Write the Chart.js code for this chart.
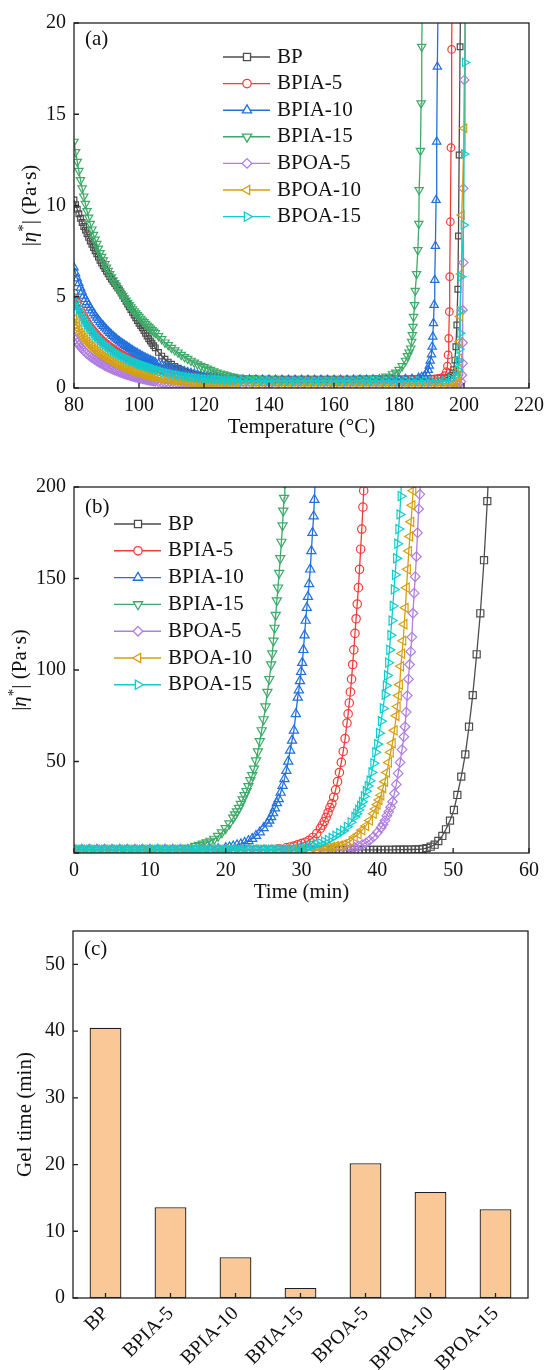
<!DOCTYPE html>
<html>
<head>
<meta charset="utf-8">
<title>Viscosity curves and gel time</title>
<script src="https://cdn.jsdelivr.net/npm/chart.js@4.4.1/dist/chart.umd.min.js"></script>
<style>
  html, body { margin: 0; padding: 0; background: #fff; }
  #page { position: relative; width: 546px; height: 1370px; overflow: hidden; }
  canvas { position: absolute; left: 0; }
</style>
</head>
<body>
<div id="page">
  <canvas id="chartA" width="546" height="460" style="top:0px"></canvas>
  <canvas id="chartB" width="546" height="460" style="top:460px"></canvas>
  <canvas id="chartC" width="546" height="450" style="top:920px"></canvas>
</div>
<script>
// ---------- (a) temperature sweep ----------
const tempLow = [80,80.5,81,81.5,82,82.5,83,83.5,84,84.5,85,85.5,86,86.5,87,87.5,88,88.5,89,89.5,
  90,90.5,91,91.5,92,92.5,93,93.5,94,94.5,95,95.5,96,96.5,97,97.5,98,98.5,99,99.5,
  100,100.5,101,101.5,102,102.5,103,103.5,104,104.5,105,
  106,107,108,109,110,111,112,113,114,115,116,117,118,119,120,121,122,123,124,125,126,127,128,129,130];
const tempMid = [132,134,136,138,140,142,144,146,148,150,152,154,156,158,160,162,164,166,168,170,172,174,176,178];

const bpEtaLow = [10.3,10.05,9.8,9.55,9.3,9.07,8.85,8.65,8.45,8.25,
  8.05,7.87,7.7,7.52,7.35,7.17,7.0,6.85,6.7,6.55,
  6.4,6.25,6.1,5.97,5.85,5.72,5.6,5.47,5.35,5.2,
  5.05,4.9,4.75,4.6,4.45,4.3,4.15,4.0,3.85,3.7,
  3.55,3.42,3.3,3.15,3.0,2.85,2.7,2.57,2.45,2.32,
  2.2,
  1.95,1.75,1.58,1.42,1.3,1.18,1.08,1.0,0.92,0.86,
  0.8,0.75,0.7,0.66,0.63,0.6,0.58,0.56,0.55,0.54,
  0.53,0.52,0.51,0.51,0.5];
const bpEtaMid = [0.5,0.5,0.5,0.49,0.49,0.49,0.49,0.49,0.49,0.49,0.49,0.49,0.49,0.49,0.49,0.49,0.49,0.49,0.5,0.5,0.5,0.5,0.5,0.5];
const bpTempRise = [180,182,184,186,188,190,192,194,195,196,196.5,196.8,197.2,197.5,197.8,198.1,198.3,198.5,198.8,199.1];
const bpEtaRise = [0.5,0.5,0.51,0.51,0.52,0.52,0.53,0.55,0.58,0.68,0.82,1.0,1.53,2.26,3.45,5.41,8.33,12.77,18.7,24];

const bpia5EtaLow = [5.2,4.94,4.7,4.5,4.3,4.12,3.95,3.78,3.62,3.49,
  3.36,3.24,3.13,3.02,2.92,2.82,2.73,2.64,2.56,2.48,
  2.41,2.34,2.27,2.2,2.14,2.08,2.02,1.96,1.91,1.86,
  1.81,1.76,1.71,1.66,1.62,1.58,1.54,1.5,1.46,1.42,
  1.39,1.35,1.32,1.29,1.26,1.23,1.2,1.17,1.14,1.11,
  1.08,
  1.03,0.98,0.93,0.88,0.84,0.8,0.77,0.74,0.71,0.68,
  0.65,0.63,0.61,0.59,0.57,0.56,0.54,0.53,0.52,0.51,
  0.5,0.49,0.49,0.48,0.48];
const bpia5EtaMid = [0.47,0.47,0.46,0.46,0.46,0.45,0.45,0.45,0.45,0.45,0.45,0.45,0.45,0.45,0.45,0.45,0.45,0.45,0.45,0.45,0.46,0.46,0.46,0.46];
const bpia5TempRise = [180,182,184,186,188,190,191,192,193,194,194.6,194.9,195.1,195.3,195.5,195.6,195.8,196.0,196.2,196.5];
const bpia5EtaRise = [0.46,0.47,0.47,0.48,0.48,0.49,0.5,0.52,0.55,0.67,0.89,1.2,1.81,2.72,4.18,6.1,9.11,13.17,18.55,25];

const bpia10EtaLow = [6.6,6.28,6.0,5.74,5.5,5.27,5.05,4.87,4.7,4.55,
  4.4,4.25,4.1,3.97,3.85,3.72,3.6,3.5,3.4,3.3,
  3.2,3.11,3.02,2.93,2.85,2.77,2.7,2.62,2.55,2.48,
  2.42,2.36,2.3,2.24,2.18,2.12,2.06,2.0,1.95,1.9,
  1.84,1.79,1.74,1.7,1.65,1.6,1.56,1.52,1.48,1.44,
  1.4,
  1.33,1.26,1.2,1.15,1.1,1.05,1.0,0.95,0.9,0.86,
  0.82,0.78,0.74,0.7,0.67,0.64,0.61,0.58,0.56,0.54,
  0.52,0.5,0.49,0.48,0.47];
const bpia10EtaMid = [0.46,0.46,0.45,0.45,0.45,0.44,0.44,0.44,0.44,0.44,0.44,0.44,0.44,0.44,0.44,0.44,0.44,0.45,0.45,0.45,0.46,0.46,0.47,0.47];
const bpia10TempRise = [180,182,184,186,187,187.8,188.5,189,189.3,189.6,190,190.2,190.4,190.6,190.8,191,191.2,191.4,191.6,191.8,192.2];
const bpia10EtaRise = [0.48,0.49,0.5,0.55,0.6,0.66,0.8,0.99,1.22,1.5,1.84,2.26,2.81,3.55,4.55,5.92,7.78,10.3,13.5,17.6,24];

const bpia15EtaLow = [13.5,12.93,12.4,11.9,11.4,10.94,10.5,10.09,9.7,9.34,
  9.0,8.69,8.4,8.14,7.9,7.64,7.4,7.19,7.0,6.8,
  6.6,6.42,6.25,6.07,5.9,5.75,5.6,5.45,5.3,5.17,
  5.05,4.92,4.8,4.67,4.55,4.43,4.32,4.21,4.1,4.0,
  3.9,3.8,3.7,3.61,3.52,3.43,3.35,3.26,3.18,3.1,
  3.02,
  2.85,2.68,2.5,2.35,2.2,2.07,1.95,1.82,1.7,1.6,
  1.5,1.4,1.3,1.22,1.15,1.07,1.0,0.92,0.85,0.8,
  0.75,0.7,0.65,0.61,0.58];
const bpia15EtaMid = [0.55,0.52,0.5,0.48,0.47,0.46,0.45,0.45,0.45,0.45,0.45,0.45,0.45,0.45,0.45,0.45,0.45,0.45,0.46,0.47,0.5,0.55,0.63,0.76];
const bpia15TempRise = [179,180,181,182,182.6,183.1,183.6,183.9,184.1,184.3,184.5,184.8,185.0,185.4,185.8,186.1,186.2,186.6,186.8,187.0,187.3];
const bpia15EtaRise = [0.85,1.0,1.2,1.5,1.75,1.95,2.17,2.54,2.9,3.36,3.9,4.55,5.33,6.25,7.56,9.0,10.85,13.0,15.6,18.7,23];

const bpoa5EtaLow = [2.8,2.64,2.5,2.37,2.25,2.15,2.05,1.96,1.88,1.8,
  1.73,1.66,1.6,1.54,1.48,1.42,1.37,1.32,1.27,1.22,
  1.18,1.13,1.09,1.05,1.01,0.97,0.94,0.9,0.87,0.83,
  0.8,0.77,0.74,0.71,0.68,0.65,0.63,0.6,0.58,0.56,
  0.54,0.52,0.5,0.48,0.46,0.44,0.42,0.4,0.39,0.37,
  0.36,
  0.33,0.3,0.28,0.26,0.24,0.22,0.21,0.2,0.19,0.18,
  0.17,0.17,0.16,0.16,0.15,0.15,0.15,0.15,0.14,0.14,
  0.14,0.14,0.14,0.14,0.14];
const bpoa5EtaMid = [0.14,0.14,0.14,0.14,0.14,0.14,0.14,0.14,0.14,0.14,0.14,0.14,0.14,0.14,0.14,0.14,0.14,0.14,0.14,0.14,0.14,0.14,0.14,0.14];
const bpoa5TempRise = [180,182,184,186,188,190,192,194,196,197,198,198.5,199.1,199.4,199.6,199.6,199.6,199.8,199.8,200.1,200.3];
const bpoa5EtaRise = [0.14,0.14,0.14,0.14,0.14,0.14,0.14,0.14,0.14,0.15,0.17,0.2,0.35,0.71,1.35,2.48,4.27,6.87,10.94,16.88,23];

const bpoa10EtaLow = [3.8,3.59,3.4,3.22,3.05,2.91,2.78,2.66,2.55,2.45,
  2.35,2.26,2.17,2.08,2.0,1.93,1.86,1.79,1.73,1.67,
  1.61,1.55,1.5,1.45,1.4,1.35,1.3,1.25,1.21,1.17,
  1.13,1.09,1.05,1.01,0.98,0.95,0.92,0.89,0.86,0.83,
  0.8,0.77,0.75,0.72,0.7,0.67,0.65,0.63,0.61,0.59,
  0.57,
  0.53,0.49,0.46,0.43,0.41,0.39,0.37,0.35,0.33,0.31,
  0.3,0.29,0.28,0.27,0.26,0.26,0.25,0.25,0.24,0.24,
  0.24,0.23,0.23,0.23,0.23];
const bpoa10EtaMid = [0.23,0.23,0.23,0.23,0.23,0.23,0.22,0.22,0.22,0.22,0.22,0.22,0.22,0.22,0.22,0.22,0.22,0.22,0.22,0.22,0.22,0.22,0.22,0.22];
const bpoa10TempRise = [180,182,184,186,188,190,192,194,196,197,198,198.3,198.4,198.5,198.6,198.8,199.1,199.3,200.1,200.4];
const bpoa10EtaRise = [0.22,0.22,0.22,0.22,0.22,0.22,0.22,0.22,0.22,0.2,0.3,0.6,1.08,1.63,2.54,3.91,6.25,9.48,14.23,21];

const bpoa15EtaLow = [5.0,4.74,4.5,4.29,4.1,3.92,3.75,3.6,3.45,3.32,
  3.2,3.09,2.98,2.88,2.78,2.69,2.6,2.52,2.44,2.37,
  2.3,2.23,2.16,2.09,2.03,1.97,1.92,1.87,1.82,1.77,
  1.72,1.67,1.63,1.59,1.55,1.51,1.47,1.43,1.4,1.36,
  1.33,1.29,1.26,1.23,1.2,1.17,1.14,1.11,1.08,1.05,
  1.02,
  0.97,0.92,0.87,0.82,0.78,0.74,0.71,0.68,0.65,0.62,
  0.59,0.57,0.55,0.53,0.51,0.5,0.48,0.47,0.46,0.45,
  0.44,0.43,0.43,0.42,0.42];
const bpoa15EtaMid = [0.41,0.41,0.4,0.4,0.4,0.39,0.39,0.39,0.39,0.39,0.39,0.39,0.39,0.39,0.39,0.39,0.39,0.39,0.39,0.39,0.39,0.4,0.4,0.4];
const bpoa15TempRise = [180,182,184,186,188,190,192,194,196,197.5,198.1,198.4,198.6,198.8,198.8,199.1,199.9,200.0,200.3,200.5];
const bpoa15EtaRise = [0.4,0.4,0.4,0.4,0.4,0.4,0.4,0.41,0.5,0.7,0.99,1.5,2.12,3.0,4.22,6.1,8.93,12.82,17.84,23];

// ---------- (b) isothermal time sweep ----------
const bpTime = [0,1,2,3,4,5,6,7,8,9,10,11,12,13,14,15,16,17,18,19,20,21,22,23,24,25,26,27,28,29,30,31,32,33,34,
  34.5,35,35.5,36,36.5,37,37.5,38,38.5,39,39.5,40,40.5,41,41.5,42,42.5,43,43.5,44,44.5,45,45.5,
  46,46.5,47.04,47.56,48.04,48.57,49.05,49.58,50.1,50.55,51.07,51.6,52.09,52.58,53.1,53.58,54.07,54.5,55];
const bpEta = [1.7,1.7,1.7,1.7,1.7,1.7,1.7,1.7,1.7,1.7,1.7,1.7,1.7,1.7,1.7,1.7,1.7,1.7,1.7,1.7,1.7,1.7,1.7,1.7,1.7,1.7,1.7,1.7,1.7,1.7,1.7,1.7,1.7,1.7,1.7,
  1.7,1.7,1.7,1.7,1.7,1.7,1.7,1.7,1.7,1.7,1.7,1.7,1.7,1.75,1.75,1.75,1.8,1.8,1.85,1.9,1.9,1.95,2.0,
  2.2,2.7,3.44,4.54,6.56,9.3,12.95,17.7,23.5,31.7,41.7,53.9,69.0,86.3,108.6,131.0,160.0,192.3,235];

const bpia5Time = [0,1,2,3,4,5,6,7,8,9,10,11,12,13,14,15,16,17,18,19,20,21,22,23,24,25,26,27,
  28,28.5,29,29.5,30,30.5,31,31.5,32,32.5,32.75,33,33.25,33.5,33.75,34,34.25,34.5,34.75,35,
  35.25,35.5,35.75,36,36.15,36.3,36.45,36.6,36.75,36.9,37.05,37.2,37.35,37.5,37.65,37.8,37.95,38.1,38.2,38.3];
const bpia5Eta = [1.8,1.8,1.8,1.8,1.8,1.8,1.8,1.8,1.8,1.8,1.8,1.8,1.8,1.8,1.8,1.8,1.8,1.8,1.8,1.8,1.8,1.8,1.8,1.8,1.8,1.8,1.8,2.3,
  2.9,3.3,3.8,4.5,5.2,5.9,6.9,8.5,10.6,13.5,15.2,17.2,19.5,22,24.8,27,30.5,34.5,39,44,
  49.5,55.5,62.5,71,76,82,88,95,103,111,120,128,136,145,155,166,177,189,198,207];

const bpia10Time = [0,1,2,3,4,5,6,7,8,9,10,11,12,13,14,15,16,17,18,19,
  20,20.5,21,21.5,22,22.5,23,23.5,24,24.5,25,25.5,
  25.75,26,26.25,26.5,26.75,27,27.25,27.5,27.75,28,28.25,28.5,28.75,29,29.25,29.5,
  29.65,29.8,29.95,30.1,30.25,30.4,30.55,30.7,30.85,31.0,31.15,31.3,31.45,31.6,31.7,31.8];
const bpia10Eta = [1.8,1.8,1.8,1.8,1.8,1.8,1.8,1.8,1.8,1.8,1.8,1.8,1.8,1.8,1.8,1.8,1.8,1.8,1.8,2.2,
  2.8,3.2,3.7,4.3,4.8,5.6,6.6,7.8,9.4,11.4,13.7,16.1,
  17.8,19.7,21.8,24.5,27.3,29.5,33,36.8,40.5,45,50,56,61.5,67,76,85,
  89,94,99,104,111,119,127,134,140,147,155,165,175,184,193,203];

const bpia15Time = [0,1,2,3,4,5,6,7,8,9,10,11,12,13,14,15,
  16,16.5,17,17.5,18,18.5,19,19.5,20,20.5,21,
  21.25,21.5,21.75,22,22.25,22.5,22.75,23,23.25,23.5,23.75,24,24.25,24.5,24.75,25,25.25,25.5,25.75,26,
  26.15,26.3,26.45,26.6,26.75,26.9,27.05,27.2,27.35,27.5,27.6,27.7,27.8];
const bpia15Eta = [1.8,1.8,1.8,1.8,1.8,1.8,1.8,1.8,1.8,1.8,1.8,1.8,1.8,1.8,2.2,2.8,
  3.8,4.4,5.0,5.7,6.6,7.7,9.3,11.2,13.5,16.1,19.2,
  21,22.7,24.6,26.8,29.2,31.5,33.8,36.5,39.7,42.5,46,50.5,55.5,61,67,73,80,88,95,103,
  109,116,123,130,138,145,153,161,170,179,187,194,202];

const bpoa5Time = [0,1,2,3,4,5,6,7,8,9,10,11,12,13,14,15,16,17,18,19,20,21,22,23,24,25,26,27,28,29,30,31,32,33,34,35,
  36,36.5,37,37.5,38,38.5,39,39.5,40,40.5,
  40.75,41,41.25,41.5,41.75,42,42.25,42.5,42.75,43,43.25,43.5,
  43.65,43.8,43.95,44.1,44.25,44.4,44.55,44.7,44.85,45.0,45.15,45.3,45.45,45.6,45.75];
const bpoa5Eta = [1.8,1.8,1.8,1.8,1.8,1.8,1.8,1.8,1.8,1.8,1.8,1.8,1.8,1.8,1.8,1.8,1.8,1.8,1.8,1.8,1.8,1.8,1.8,1.8,1.8,1.8,1.8,1.8,1.8,1.8,1.8,1.8,1.8,1.8,1.8,1.8,
  1.9,2.3,3.0,3.8,4.5,5.5,7.0,8.8,11.2,13.8,
  15.6,17.7,20.3,22.5,25,28,32.5,37.5,43.5,49.5,56.5,63.5,
  69,77,86,95,103,110,118,131,142,151,162,175,188,196,206];

const bpoa10Time = [0,1,2,3,4,5,6,7,8,9,10,11,12,13,14,15,16,17,18,19,20,21,22,23,24,25,26,27,28,29,30,31,32,
  32.5,33,33.5,34,34.5,35,35.5,36,36.5,37,37.5,38,38.5,39,39.5,
  39.75,40,40.25,40.5,40.75,41,41.25,41.5,41.75,42,42.25,42.5,
  42.65,42.8,42.95,43.1,43.25,43.4,43.55,43.7,43.85,44.0,44.15,44.3,44.45,44.6,44.72,44.85];
const bpoa10Eta = [1.8,1.8,1.8,1.8,1.8,1.8,1.8,1.8,1.8,1.8,1.8,1.8,1.8,1.8,1.8,1.8,1.8,1.8,1.8,1.8,1.8,1.8,1.8,1.8,1.8,1.8,1.8,1.8,1.8,1.8,1.8,1.8,1.9,
  2.2,2.5,2.9,3.3,3.7,4.0,4.6,5.4,6.6,8.8,10.3,12.5,14.8,17.8,21.5,
  24,26.5,29,31.5,35.5,39,44,49.5,55,60,67,75,
  80,86,92,102,109,116,125,134,145,155,165,173,181,190,198,208];

const bpoa15Time = [0,0.5,1,1.5,2,2.5,3,3.5,4,4.5,5,5.5,6,6.5,7,7.5,8,8.5,9,9.5,
  10,10.5,11,11.5,12,12.5,13,13.5,14,14.5,15,15.5,16,16.5,17,17.5,18,18.5,19,19.5,
  20,20.5,21,21.5,22,22.5,23,23.5,24,24.5,25,25.5,26,26.5,27,27.5,28,28.5,29,29.5,
  30,30.5,31,31.5,32,32.5,33,33.5,34,34.5,35,35.5,36,36.5,37,
  37.25,37.5,37.75,38,38.25,38.5,38.75,39,39.25,39.5,39.75,40,40.25,40.5,40.75,41,
  41.15,41.3,41.45,41.6,41.75,41.9,42.05,42.2,42.35,42.5,42.65,42.8,42.95,43.1,43.2];
const bpoa15Eta = [1.8,1.8,1.8,1.8,1.8,1.8,1.8,1.8,1.8,1.8,1.8,1.8,1.8,1.8,1.8,1.8,1.8,1.8,1.8,1.8,
  1.8,1.8,1.8,1.8,1.8,1.8,1.8,1.8,1.8,1.8,1.8,1.8,1.8,1.8,1.8,1.8,1.8,1.8,1.8,1.8,
  1.8,1.8,1.8,1.8,1.8,1.8,1.8,1.8,1.8,1.8,1.8,1.8,1.8,1.8,1.8,1.8,1.8,1.8,1.8,2.1,
  2.4,2.8,3.4,4.1,4.8,5.4,6.2,7.1,8.2,9.4,10.8,12.2,14.3,16.8,19.7,
  21.5,23.5,25.7,28,31,33.8,36.6,39.5,44,49,55,59.5,65.5,72,79,86.5,
  91.5,97,104,111,119,127,135,144,152,161,169,177,185,195,204];

// ---------- (c) gel time ----------
const samples = ['BP', 'BPIA-5', 'BPIA-10', 'BPIA-15', 'BPOA-5', 'BPOA-10', 'BPOA-15'];
const gelTime = [40.5, 13.6, 6.1, 1.5, 20.2, 15.9, 13.3];

// ---------- styling ----------
const serif = "'Liberation Serif', 'Times New Roman', serif";
Chart.defaults.font.family = serif;
Chart.defaults.font.size = 20;
Chart.defaults.color = '#111';

const looks = [
  { color: '#4d4d4d', style: 'rect', rot: 0 },
  { color: '#f23c3c', style: 'circle', rot: 0 },
  { color: '#2170dc', style: 'triangle', rot: 0 },
  { color: '#3daa68', style: 'triangle', rot: 180 },
  { color: '#b07de0', style: 'rectRot', rot: 0 },
  { color: '#d4a012', style: 'triangle', rot: 270 },
  { color: '#10cccc', style: 'triangle', rot: 90 }
];
const radiusA = { rect: 4, circle: 3.8, triangle: 4.8, rectRot: 4.6 };
const radiusB = { rect: 5, circle: 4.2, triangle: 5.3, rectRot: 4.8 };

function xy(xs, ys) {
  return xs.map((x, i) => ({ x: x, y: ys[i] }));
}

function makeSets(series, radius) {
  return series.map((pts, i) => {
    const lk = looks[i];
    return {
      label: samples[i],
      data: pts,
      showLine: true,
      borderColor: lk.color,
      borderWidth: 1.3,
      pointStyle: lk.style,
      pointRotation: lk.rot,
      pointRadius: radius[lk.style],
      pointBorderWidth: 1.2,
      pointBorderColor: lk.color,
      pointBackgroundColor: 'rgba(0,0,0,0)',
      legendRadius: radiusB[lk.style],
      order: series.length - 1 - i
    };
  });
}

// fixed box sizes so every panel lines up; drop the label overhang padding
function fixWidth(w) {
  return s => { s.width = w; s.paddingTop = 0; s.paddingBottom = 0; s.paddingLeft = 0; s.paddingRight = 0; };
}
function fixHeight(h) {
  return s => { s.height = h; s.paddingTop = 0; s.paddingBottom = 0; s.paddingLeft = 0; s.paddingRight = 0; };
}

// box around the plot with inward tick marks
const framePlugin = {
  id: 'frame',
  afterDatasetsDraw(chart) {
    const ctx = chart.ctx, a = chart.chartArea;
    const xs = chart.scales.x, ys = chart.scales.y;
    ctx.save();
    ctx.strokeStyle = '#222';
    ctx.lineWidth = 1.3;
    ctx.strokeRect(a.left, a.top, a.right - a.left, a.bottom - a.top);
    ctx.beginPath();
    xs.ticks.forEach((t, i) => {
      const px = xs.getPixelForTick(i);
      ctx.moveTo(px, a.bottom);
      ctx.lineTo(px, a.bottom - 5);
    });
    ys.ticks.forEach((t, i) => {
      const py = ys.getPixelForTick(i);
      ctx.moveTo(a.left, py);
      ctx.lineTo(a.left + 5, py);
    });
    ctx.stroke();
    ctx.restore();
  }
};

function drawRich(ctx, parts, cx, cy) {
  ctx.save();
  ctx.translate(cx, cy);
  ctx.rotate(-Math.PI / 2);
  ctx.textAlign = 'left';
  ctx.textBaseline = 'alphabetic';
  let total = 0;
  parts.forEach(p => { ctx.font = p.font; total += ctx.measureText(p.text).width; });
  let x = -total / 2;
  parts.forEach(p => {
    ctx.font = p.font;
    ctx.fillText(p.text, x, 7 + (p.dy || 0));
    x += ctx.measureText(p.text).width;
  });
  ctx.restore();
}

// panel tag, axis titles and the line+symbol legend
const decorPlugin = {
  id: 'decor',
  afterDraw(chart, args, o) {
    const ctx = chart.ctx, a = chart.chartArea;
    ctx.save();
    ctx.fillStyle = '#111';
    ctx.textBaseline = 'middle';
    ctx.font = '21px ' + serif;
    if (o.panel) {
      ctx.textAlign = 'left';
      ctx.fillText(o.panel.text, o.panel.x, o.panel.y);
    }
    if (o.xTitle) {
      ctx.textAlign = 'center';
      ctx.fillText(o.xTitle.text, (a.left + a.right) / 2, o.xTitle.y);
    }
    if (o.yTitle) {
      drawRich(ctx, o.yTitle.parts, o.yTitle.x, (a.top + a.bottom) / 2);
    }
    if (o.legend) {
      const L = o.legend;
      chart.data.datasets.forEach((ds, i) => {
        const y = L.y0 + i * L.dy;
        ctx.strokeStyle = ds.borderColor;
        ctx.lineWidth = 1.4;
        ctx.beginPath();
        ctx.moveTo(L.x0, y);
        ctx.lineTo(L.x1, y);
        ctx.stroke();
        ctx.fillStyle = '#fff';
        ctx.lineWidth = 1.3;
        Chart.helpers.drawPoint(ctx, {
          pointStyle: ds.pointStyle, rotation: ds.pointRotation,
          radius: ds.legendRadius, borderWidth: 1.3
        }, L.mx, y);
        ctx.fillStyle = '#111';
        ctx.textAlign = 'left';
        ctx.textBaseline = 'middle';
        ctx.font = '21px ' + serif;
        ctx.fillText(ds.label, L.tx, y);
      });
    }
    ctx.restore();
  }
};

const etaTitle = [
  { text: '|', font: '21px ' + serif },
  { text: 'η', font: 'italic 21px ' + serif },
  { text: '*', font: '15px ' + serif, dy: -8 },
  { text: '| (Pa·s)', font: '21px ' + serif }
];

function plainAxis(min, max, step, extra) {
  return Object.assign({
    type: 'linear', min: min, max: max,
    grid: { display: false, drawTicks: false },
    border: { display: false },
    ticks: { stepSize: step, maxRotation: 0, includeBounds: false, color: '#111', font: { size: 20 } }
  }, extra || {});
}

// (a)
const seriesA = [
  xy(tempLow.concat(tempMid, bpTempRise), bpEtaLow.concat(bpEtaMid, bpEtaRise)),
  xy(tempLow.concat(tempMid, bpia5TempRise), bpia5EtaLow.concat(bpia5EtaMid, bpia5EtaRise)),
  xy(tempLow.concat(tempMid, bpia10TempRise), bpia10EtaLow.concat(bpia10EtaMid, bpia10EtaRise)),
  xy(tempLow.concat(tempMid, bpia15TempRise), bpia15EtaLow.concat(bpia15EtaMid, bpia15EtaRise)),
  xy(tempLow.concat(tempMid, bpoa5TempRise), bpoa5EtaLow.concat(bpoa5EtaMid, bpoa5EtaRise)),
  xy(tempLow.concat(tempMid, bpoa10TempRise), bpoa10EtaLow.concat(bpoa10EtaMid, bpoa10EtaRise)),
  xy(tempLow.concat(tempMid, bpoa15TempRise), bpoa15EtaLow.concat(bpoa15EtaMid, bpoa15EtaRise))
];

const xA = plainAxis(80, 220, 20, { afterFit: fixHeight(72) });
xA.ticks.padding = 6;
const yA = plainAxis(0, 20, 5, { afterFit: fixWidth(74) });
yA.ticks.padding = 8;

new Chart(document.getElementById('chartA'), {
  type: 'scatter',
  data: { datasets: makeSets(seriesA, radiusA) },
  options: {
    responsive: false,
    animation: false,
    events: [],
    layout: { padding: { top: 23, right: 17, left: 0, bottom: 0 } },
    scales: { x: xA, y: yA },
    plugins: {
      legend: { display: false },
      tooltip: { enabled: false },
      decor: {
        panel: { text: '(a)', x: 85, y: 39 },
        xTitle: { text: 'Temperature (°C)', y: 427 },
        yTitle: { parts: etaTitle, x: 29 },
        legend: { x0: 223, x1: 270, mx: 247, tx: 277, y0: 57, dy: 26.6 }
      }
    }
  },
  plugins: [framePlugin, decorPlugin]
});

// (b)
const seriesB = [
  xy(bpTime, bpEta),
  xy(bpia5Time, bpia5Eta),
  xy(bpia10Time, bpia10Eta),
  xy(bpia15Time, bpia15Eta),
  xy(bpoa5Time, bpoa5Eta),
  xy(bpoa10Time, bpoa10Eta),
  xy(bpoa15Time, bpoa15Eta)
];

const xB = plainAxis(0, 60, 10, { afterFit: fixHeight(67) });
xB.ticks.padding = 6;
const yB = plainAxis(0, 200, 50, { afterFit: fixWidth(74) });
yB.ticks.padding = 8;
yB.ticks.callback = v => (v === 0 ? '' : v);

new Chart(document.getElementById('chartB'), {
  type: 'scatter',
  data: { datasets: makeSets(seriesB, radiusB) },
  options: {
    responsive: false,
    animation: false,
    events: [],
    layout: { padding: { top: 27, right: 17, left: 0, bottom: 0 } },
    scales: { x: xB, y: yB },
    plugins: {
      legend: { display: false },
      tooltip: { enabled: false },
      decor: {
        panel: { text: '(b)', x: 85, y: 47 },
        xTitle: { text: 'Time (min)', y: 432 },
        yTitle: { parts: etaTitle, x: 19 },
        legend: { x0: 114, x1: 161, mx: 138, tx: 168, y0: 64, dy: 26.8 }
      }
    }
  },
  plugins: [framePlugin, decorPlugin]
});

// (c)
const yC = plainAxis(0, 55, 10, { afterFit: fixWidth(73) });
yC.ticks.padding = 8;

new Chart(document.getElementById('chartC'), {
  type: 'bar',
  data: {
    labels: samples,
    datasets: [{
      data: gelTime,
      backgroundColor: '#fac896',
      borderColor: '#1e1e1e',
      borderWidth: 1.3,
      borderSkipped: false,
      barPercentage: 0.49,
      categoryPercentage: 1
    }]
  },
  options: {
    responsive: false,
    animation: false,
    events: [],
    layout: { padding: { top: 11, right: 18, left: 0, bottom: 0 } },
    scales: {
      x: {
        grid: { display: false, drawTicks: false },
        border: { display: false },
        ticks: { autoSkip: false, minRotation: 45, maxRotation: 45, padding: 4, color: '#111', font: { size: 20 } },
        afterFit: fixHeight(72)
      },
      y: yC
    },
    plugins: {
      legend: { display: false },
      tooltip: { enabled: false },
      decor: {
        panel: { text: '(c)', x: 84, y: 29 },
        yTitle: { parts: [{ text: 'Gel time (min)', font: '21px ' + serif }], x: 24 }
      }
    }
  },
  plugins: [framePlugin, decorPlugin]
});
</script>
</body>
</html>
